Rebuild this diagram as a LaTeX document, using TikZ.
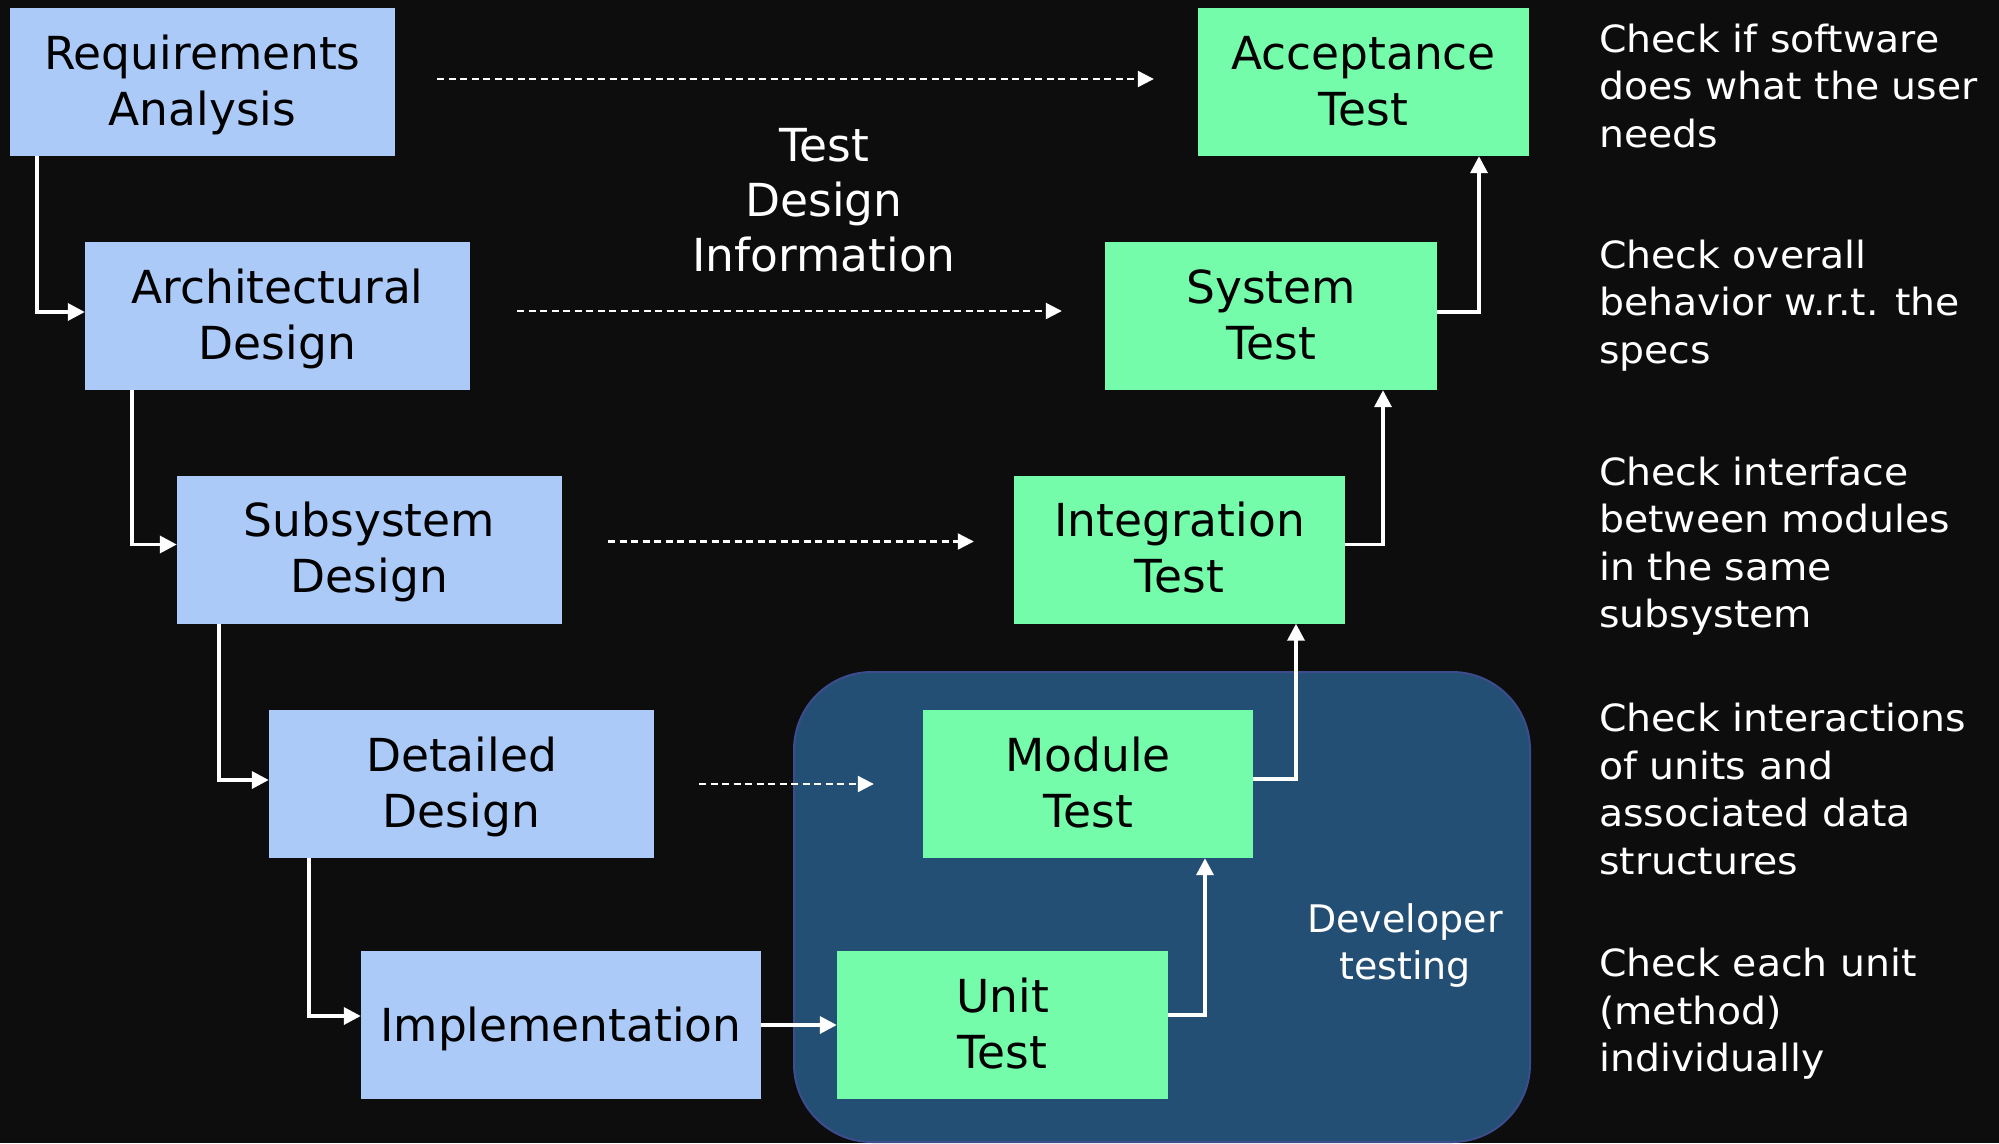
\documentclass[tikz,border=0pt]{standalone}
\usepackage{fontspec}
\setmainfont{DejaVu Sans}
\newfontfamily\descfont[FakeStretch=1.05]{DejaVu Sans}
\usetikzlibrary{arrows.meta}
\definecolor{bg}{HTML}{0D0D0D}
\definecolor{designblue}{HTML}{ABCAF8}
\definecolor{testgreen}{HTML}{75FCAB}
\definecolor{devfill}{HTML}{244F75}
\definecolor{devline}{HTML}{3C4C8C}
\begin{document}
\begin{tikzpicture}[x=1pt,y=-1pt,
  box/.style={rectangle, inner sep=0pt, text=black, align=center,
    font=\fontsize{45.5}{56}\selectfont, text height=86pt, text depth=0pt},
  design/.style={box, fill=designblue, minimum height=148pt},
  testbox/.style={box, fill=testgreen, minimum height=148pt},
  conn/.style={draw=white, line width=3.5pt, -{Triangle[length=17pt,width=17pt]}},
  infoarrow/.style={draw=white, line width=2.2pt, dash pattern=on 7pt off 4.5pt,
    -{Triangle[length=16pt,width=16pt]}},
  desc/.style={inner sep=0pt, text=white, align=left, anchor=north west,
    font=\descfont\fontsize{37.5}{47.4}\selectfont, text depth=0pt},
  descthree/.style={desc, text height=122.8pt},
  descfour/.style={desc, text height=170.2pt},
]
\useasboundingbox[fill=bg] (0,0) rectangle (1999,1143);

% developer testing area
\draw[draw=devline, fill=devfill, line width=2pt, rounded corners=78pt]
  (794,672) rectangle (1530,1142);

% design side
\node[design, minimum width=385pt] (req)  at (202.5,82)   {Requirements\\Analysis};
\node[design, minimum width=385pt] (arch) at (277.5,316)  {Architectural\\Design};
\node[design, minimum width=385pt] (sub)  at (369.5,549.5){Subsystem\\Design};
\node[design, minimum width=385pt] (det)  at (461.5,784)  {Detailed\\Design};
\node[design, minimum width=400pt, text height=33pt] (impl) at (561,1025) {Implementation};

% test side
\node[testbox, minimum width=331pt] (acc)  at (1363.5,82)   {Acceptance\\Test};
\node[testbox, minimum width=332pt] (sys)  at (1271,316)    {System\\Test};
\node[testbox, minimum width=331pt] (int)  at (1179.5,549.5){Integration\\Test};
\node[testbox, minimum width=330pt] (mod)  at (1088,784)    {Module\\Test};
\node[testbox, minimum width=331pt] (unit) at (1002.5,1025) {Unit\\Test};

% middle label
\node[inner sep=0pt, text=white, align=center, font=\fontsize{45.5}{55}\selectfont,
  text height=143pt, text depth=0pt, anchor=north] (info) at (824,128) {Test\\Design\\Information};

% developer testing label
\node[inner sep=0pt, text=white, align=center, font=\fontsize{38}{47}\selectfont,
  text height=75pt, text depth=0pt, anchor=north] (dev) at (1405,904) {Developer\\testing};

% right descriptions
\node[descthree] (d1) at (1599,24)    {Check if software\\does what the user\\needs};
\node[descthree] (d2) at (1599,240)   {Check overall\\behavior w.r.t. the\\specs};
\node[descfour]  (d3) at (1599,457)   {Check interface\\between modules\\in the same\\subsystem};
\node[descfour]  (d4) at (1599,703.7) {Check interactions\\of units and\\associated data\\structures};
\node[descthree] (d5) at (1599,948.7) {Check each unit\\(method)\\individually};

% design flow (down the left)
\draw[conn] ([xshift=27pt]req.south west)  |- ([yshift=4pt]arch.west);
\draw[conn] ([xshift=47pt]arch.south west) |- ([yshift=5pt]sub.west);
\draw[conn] ([xshift=42pt]sub.south west)  |- ([yshift=4pt]det.west);
\draw[conn] ([xshift=40pt]det.south west)  |- ([yshift=9pt]impl.west);
\draw[conn] (impl.east) -- (unit.west);

% test flow (up the right)
\draw[conn] ([yshift=10pt]unit.east) -| ([xshift=117pt]mod.south);
\draw[conn] ([yshift=5pt]mod.east)   -| ([xshift=116.5pt]int.south);
\draw[conn] ([yshift=5pt]int.east)   -| ([xshift=112pt]sys.south);
\draw[conn] ([yshift=4pt]sys.east)   -| ([xshift=115.5pt]acc.south);

% test design information arrows
\draw[infoarrow] ([xshift=42pt,yshift=3pt]req.east)  -- ([xshift=-44pt,yshift=3pt]acc.west);
\draw[infoarrow] ([xshift=47pt,yshift=5pt]arch.east) -- ([xshift=-43pt,yshift=5pt]sys.west);
\draw[infoarrow] ([xshift=46pt,yshift=8pt]sub.east)  -- ([xshift=-40pt,yshift=8pt]int.west);
\draw[infoarrow] ([xshift=45pt]det.east)             -- ([xshift=-49pt]mod.west);
\end{tikzpicture}
\end{document}
